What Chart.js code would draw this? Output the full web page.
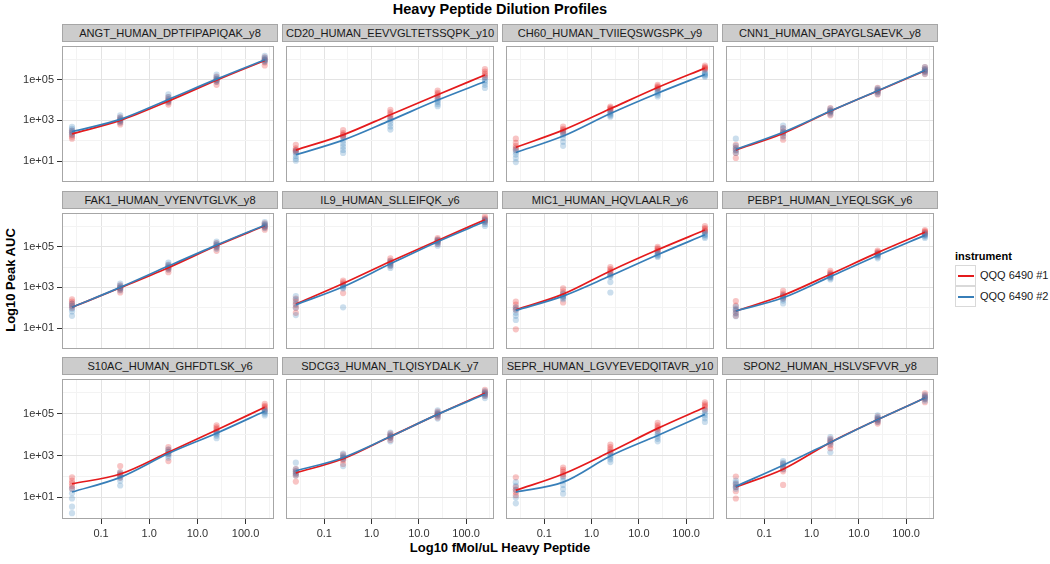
<!DOCTYPE html>
<html lang="en">
<head>
<meta charset="UTF-8" />
<title>Heavy Peptide Dilution Profiles</title>
<script src="https://cdn.jsdelivr.net/npm/chart.js@4.4.0/dist/chart.umd.min.js"></script>
<style>
  body { margin: 0; background: #fff; font-family: 'Liberation Sans', Arial, sans-serif; }
  #page { position: relative; width: 1050px; height: 564px; overflow: hidden; }
  canvas { position: absolute; }
  .strip { position: absolute; box-sizing: border-box; height: 18px; background: #CCCCCC; border: 1px solid #A6A6A6;
           font-size: 11.1px; line-height: 16px; text-align: center; color: #1a1a1a; white-space: nowrap; }
  .title { position: absolute; left: 0; width: 1000px; top: 1px; text-align: center; font-weight: bold; font-size: 14.5px; color: #000; }
  .xtitle { position: absolute; left: 62px; width: 876px; top: 540px; text-align: center; font-weight: bold; font-size: 13px; color: #000; }
  .ytitle { position: absolute; left: 10px; top: 280px; transform: translate(-50%, -50%) rotate(-90deg); font-weight: bold; font-size: 13px; white-space: nowrap; color: #000; }
  .ltitle { position: absolute; left: 955px; top: 250px; font-weight: bold; font-size: 11px; }
  .lkey { position: absolute; left: 955px; width: 21px; height: 21px; box-sizing: border-box; border: 1px solid #D9D9D9; background: #fff; }
  .lkey span { position: absolute; left: 2px; right: 1px; top: 9px; height: 1.6px; }
  .llab { position: absolute; left: 980px; font-size: 11px; color: #1a1a1a; }
</style>
</head>
<body>
<div id="page">
  <div class="title">Heavy Peptide Dilution Profiles</div>
  <div class="xtitle">Log10 fMol/uL Heavy Peptide</div>
  <div class="ytitle">Log10 Peak AUC</div>
  <div class="ltitle">instrument</div>
  <div class="lkey" style="top:265px"><span style="background:#E41A1C"></span></div>
  <div class="llab" style="top:269px">QQQ 6490 #1</div>
  <div class="lkey" style="top:286px"><span style="background:#377EB8"></span></div>
  <div class="llab" style="top:290px">QQQ 6490 #2</div>
</div>
<script>
  var peptides = [
    'ANGT_HUMAN_DPTFIPAPIQAK_y8', 'CD20_HUMAN_EEVVGLTETSSQPK_y10', 'CH60_HUMAN_TVIIEQSWGSPK_y9', 'CNN1_HUMAN_GPAYGLSAEVK_y8',
    'FAK1_HUMAN_VYENVTGLVK_y8', 'IL9_HUMAN_SLLEIFQK_y6', 'MIC1_HUMAN_HQVLAALR_y6', 'PEBP1_HUMAN_LYEQLSGK_y6',
    'S10AC_HUMAN_GHFDTLSK_y6', 'SDCG3_HUMAN_TLQISYDALK_y7', 'SEPR_HUMAN_LGVYEVEDQITAVR_y10', 'SPON2_HUMAN_HSLVSFVVR_y8'
  ];
  var concentrations = [0.025, 0.25, 2.5, 25, 250];
  var instruments = ['QQQ 6490 #1', 'QQQ 6490 #2'];

  // smoothed fit, log10 peak AUC at each concentration
  var fit1 = [
    [2.34, 3.0, 3.95, 4.98, 5.95], [1.54, 2.29, 3.28, 4.26, 5.23], [1.68, 2.52, 3.57, 4.62, 5.57], [1.55, 2.36, 3.45, 4.45, 5.44],
    [2.02, 2.98, 3.97, 5.05, 6.03], [2.18, 3.19, 4.27, 5.31, 6.33], [1.9, 2.67, 3.81, 4.85, 5.82], [1.84, 2.61, 3.65, 4.71, 5.71],
    [1.65, 2.12, 3.16, 4.22, 5.31], [2.17, 2.85, 3.91, 4.97, 5.98], [1.34, 2.12, 3.18, 4.3, 5.31], [1.5, 2.35, 3.63, 4.72, 5.75]
  ];
  var fit2 = [
    [2.45, 3.05, 4.03, 5.03, 5.98], [1.31, 2.03, 3.0, 4.0, 4.91], [1.42, 2.23, 3.34, 4.34, 5.26], [1.58, 2.42, 3.46, 4.46, 5.46],
    [2.02, 3.0, 4.05, 5.08, 6.06], [2.15, 3.03, 4.16, 5.25, 6.24], [1.87, 2.57, 3.57, 4.61, 5.59], [1.84, 2.49, 3.53, 4.57, 5.56],
    [1.26, 1.96, 3.1, 4.07, 5.12], [2.27, 2.9, 3.91, 4.97, 5.93], [1.26, 1.73, 2.98, 3.96, 4.97], [1.53, 2.54, 3.63, 4.72, 5.75]
  ];

  // replicate measurements, log10 peak AUC, one list per concentration
  var rep1 = [
    [[2.5,2.4,2.3,2.2,2.1],[3.15,3.05,2.98,2.9,2.8],[4.15,4.02,3.95,3.88,3.78],[5.15,5.03,4.97,4.9,4.75],[6.1,6.0,5.95,5.85,5.7]],
    [[1.8,1.62,1.55,1.5,1.45],[2.52,2.38,2.3,2.25,2.18],[3.52,3.4,3.3,3.2,3.1],[4.46,4.35,4.28,4.2,4.1],[5.52,5.4,5.3,5.22,5.12]],
    [[2.1,1.9,1.75,1.65,1.55],[2.69,2.58,2.52,2.45,2.36],[3.68,3.62,3.57,3.52,3.47],[4.75,4.68,4.62,4.58,4.54],[5.69,5.62,5.58,5.53,5.49]],
    [[1.8,1.65,1.55,1.4,1.15],[2.62,2.45,2.35,2.25,2.05],[3.6,3.5,3.45,3.38,3.25],[4.6,4.5,4.45,4.38,4.28],[5.62,5.52,5.45,5.38,5.28]],
    [[2.41,2.3,2.2,2.1,2.0],[3.1,3.0,2.95,2.88,2.75],[4.1,4.0,3.95,3.88,3.75],[5.18,5.08,5.02,4.95,4.8],[6.15,6.05,6.0,5.95,5.84]],
    [[2.45,2.3,2.15,2.0,1.75],[3.34,3.25,3.18,3.1,2.72],[4.43,4.32,4.25,4.18,4.08],[5.43,5.35,5.3,5.24,5.15],[6.49,6.4,6.33,6.28,6.2]],
    [[2.3,2.15,2.0,1.9,0.94],[2.95,2.8,2.7,2.55,2.26],[4.0,3.9,3.82,3.75,3.65],[5.0,4.92,4.86,4.8,4.74],[6.02,5.92,5.85,5.78,5.74]],
    [[2.33,2.1,1.9,1.75,1.6],[2.83,2.7,2.62,2.55,2.45],[3.81,3.72,3.66,3.6,3.52],[4.81,4.75,4.7,4.65,4.6],[5.82,5.76,5.72,5.66,5.6]],
    [[1.96,1.8,1.68,1.55,1.42],[2.5,2.2,2.12,2.05,1.95],[3.41,3.28,3.18,3.08,2.74],[4.45,4.35,4.28,4.2,4.14],[5.47,5.38,5.32,5.25,5.16]],
    [[2.35,2.25,2.15,2.05,1.76],[3.05,2.92,2.85,2.78,2.6],[4.05,3.95,3.9,3.85,3.75],[5.1,5.02,4.97,4.92,4.82],[6.14,6.05,5.98,5.92,5.85]],
    [[1.96,1.5,1.38,1.25,1.11],[2.43,2.32,2.22,2.12,2.04],[3.52,3.4,3.3,3.2,3.13],[4.56,4.45,4.35,4.28,4.19],[5.55,5.45,5.38,5.3,5.19]],
    [[2.0,1.65,1.5,1.3,0.95],[2.6,2.45,2.35,2.25,1.6],[3.8,3.7,3.62,3.5,3.35],[4.85,4.75,4.7,4.62,4.53],[5.97,5.85,5.78,5.7,5.55]]
  ];
  var rep2 = [
    [[2.68,2.58,2.48,2.4,2.3],[3.25,3.12,3.05,2.98,2.9],[4.28,4.15,4.05,3.98,3.9],[5.25,5.12,5.05,4.98,4.9],[6.18,6.08,6.0,5.95,5.88]],
    [[1.5,1.38,1.25,1.12,1.02],[2.18,2.0,1.85,1.7,1.55,1.4],[3.1,2.98,2.85,2.7,2.55],[4.08,3.98,3.9,3.8,3.7],[5.1,4.98,4.88,4.75,4.6]],
    [[1.57,1.45,1.32,1.15,0.95],[2.42,2.3,2.15,1.95,1.75],[3.42,3.36,3.3,3.24,3.18],[4.49,4.4,4.34,4.26,4.18],[5.37,5.3,5.26,5.2,5.15]],
    [[2.1,1.75,1.62,1.52,1.4],[2.75,2.6,2.45,2.38,2.2],[3.58,3.5,3.45,3.4,3.3],[4.58,4.52,4.46,4.4,4.3],[5.62,5.52,5.46,5.4,5.3]],
    [[2.2,2.08,1.95,1.82,1.6],[3.19,3.08,3.0,2.95,2.85],[4.22,4.12,4.05,3.98,3.88],[5.25,5.15,5.08,5.0,4.9],[6.21,6.12,6.06,6.0,5.92]],
    [[2.57,2.4,2.2,2.0,1.64],[3.1,3.05,3.0,2.95,2.02],[4.3,4.2,4.12,4.05,3.96],[5.35,5.28,5.22,5.15,5.05],[6.35,6.28,6.22,6.12,6.02]],
    [[2.02,1.9,1.75,1.6,1.4],[2.7,2.6,2.55,2.48,2.42],[3.65,3.58,3.52,3.26,2.75],[4.74,4.66,4.6,4.55,4.5],[5.71,5.62,5.58,5.5,5.43]],
    [[2.05,1.95,1.85,1.72,1.58],[2.6,2.52,2.45,2.35,2.21],[3.62,3.55,3.5,3.45,3.39],[4.66,4.6,4.55,4.5,4.43],[5.66,5.6,5.55,5.5,5.43]],
    [[1.42,1.2,0.95,0.56,0.25],[2.2,2.05,1.95,1.8,1.57],[3.3,3.18,3.1,3.0,2.9],[4.14,4.08,4.02,3.95,3.83],[5.19,5.12,5.08,5.0,4.92]],
    [[2.66,2.35,2.25,2.15,2.05],[3.1,2.98,2.9,2.82,2.5],[4.1,3.98,3.92,3.85,3.68],[5.16,5.05,4.98,4.9,4.77],[6.08,6.0,5.93,5.86,5.75]],
    [[1.73,1.55,1.35,1.0,0.72],[1.96,1.8,1.6,1.4,1.18],[3.13,3.0,2.92,2.82,2.69],[4.14,4.02,3.92,3.8,3.68],[5.16,5.02,4.92,4.78,4.61]],
    [[1.8,1.7,1.6,1.5,1.42],[2.74,2.65,2.58,2.48,2.35],[3.88,3.75,3.66,3.55,3.16],[4.92,4.82,4.75,4.68,4.6],[5.9,5.82,5.76,5.7,5.62]]
  ];

  var xTicks = [0.1, 1, 10, 100];
  var xTickLabels = ['0.1', '1.0', '10.0', '100.0'];
  var yTickExp = [1, 3, 5];
  var yTickLabels = ['1e+01', '1e+03', '1e+05'];

  var lineColors = ['#E41A1C', '#377EB8'];
  var pointColors = ['rgba(228,26,28,0.26)', 'rgba(55,126,184,0.26)'];

  // grid: major at the ticks, minor half way between (log space)
  var xGridExp = [-1.5, -1, -0.5, 0, 0.5, 1, 1.5, 2, 2.5];
  var yGridExp = [0, 1, 2, 3, 4, 5, 6];

  function isMajorExp(e) { return Math.abs(e - Math.round(e)) < 1e-6; }

  function toPoints(reps) {
    var pts = [];
    reps.forEach(function (vals, i) {
      vals.forEach(function (v) { pts.push({ x: concentrations[i], y: Math.pow(10, v) }); });
    });
    return pts;
  }

  function toLine(fit) {
    return fit.map(function (v, i) { return { x: concentrations[i], y: Math.pow(10, v) }; });
  }

  var panelBorder = {
    id: 'panelBorder',
    afterDatasetsDraw: function (chart) {
      var a = chart.chartArea, ctx = chart.ctx;
      ctx.save();
      ctx.strokeStyle = '#A6A6A6';
      ctx.lineWidth = 1;
      ctx.strokeRect(a.left + 0.5, a.top + 0.5, a.right - a.left - 1, a.bottom - a.top - 1);
      ctx.restore();
    }
  };

  var page = document.getElementById('page');
  var plotW = 216, plotH = 144, stripH = 18;
  var yAxisW = 62, xAxisH = 30;

  peptides.forEach(function (name, p) {
    var r = Math.floor(p / 4), c = p % 4;
    var left = 62 + c * 220;
    var stripTop = Math.round(24 + r * 166.5);
    var top = stripTop + stripH;
    var leftCol = c === 0, bottomRow = r === 2;

    var strip = document.createElement('div');
    strip.className = 'strip';
    strip.style.left = left + 'px';
    strip.style.top = stripTop + 'px';
    strip.style.width = plotW + 'px';
    strip.textContent = name;
    page.appendChild(strip);

    var canvas = document.createElement('canvas');
    var cw = plotW + (leftCol ? yAxisW : 0);
    var ch = plotH + (bottomRow ? xAxisH : 0);
    canvas.width = cw; canvas.height = ch;
    canvas.style.width = cw + 'px'; canvas.style.height = ch + 'px';
    canvas.style.left = (left - (leftCol ? yAxisW : 0)) + 'px';
    canvas.style.top = top + 'px';
    page.appendChild(canvas);

    new Chart(canvas, {
      data: {
        datasets: [
          { type: 'line', label: instruments[1], data: toLine(fit2[p]), borderColor: lineColors[1], borderWidth: 1.7,
            pointRadius: 0, cubicInterpolationMode: 'monotone', order: 0 },
          { type: 'line', label: instruments[0], data: toLine(fit1[p]), borderColor: lineColors[0], borderWidth: 1.7,
            pointRadius: 0, cubicInterpolationMode: 'monotone', order: 1 },
          { type: 'scatter', label: instruments[1], data: toPoints(rep2[p]), backgroundColor: pointColors[1],
            borderWidth: 0, pointRadius: 3.1, order: 2 },
          { type: 'scatter', label: instruments[0], data: toPoints(rep1[p]), backgroundColor: pointColors[0],
            borderWidth: 0, pointRadius: 3.1, order: 3 }
        ]
      },
      options: {
        responsive: false,
        animation: false,
        events: [],
        layout: { padding: 0 },
        plugins: { legend: { display: false }, tooltip: { enabled: false } },
        scales: {
          x: {
            type: 'logarithmic',
            min: Math.pow(10, -1.81),
            max: Math.pow(10, 2.59),
            afterBuildTicks: function (s) { s.ticks = xGridExp.map(function (e) { return { value: Math.pow(10, e) }; }); },
            afterFit: function (s) { s.height = bottomRow ? xAxisH : 0; s.paddingLeft = 0; s.paddingRight = 0; },
            border: { display: false },
            grid: {
              color: function (ctx) { return isMajorExp(Math.log10(ctx.tick.value)) ? '#E3E3E3' : '#F3F3F3'; },
              lineWidth: 1,
              drawTicks: bottomRow,
              tickLength: 5,
              tickColor: function (ctx) { return isMajorExp(Math.log10(ctx.tick.value)) ? '#333333' : 'rgba(0,0,0,0)'; }
            },
            ticks: {
              display: bottomRow,
              autoSkip: false,
              maxRotation: 0,
              padding: 3,
              color: '#333333',
              font: { family: "'Liberation Sans', Arial, sans-serif", size: 11 },
              callback: function (v) {
                var i = xTicks.findIndex(function (t) { return Math.abs(Math.log10(t) - Math.log10(v)) < 1e-6; });
                return i >= 0 ? xTickLabels[i] : '';
              }
            }
          },
          y: {
            type: 'logarithmic',
            min: Math.pow(10, -0.03),
            max: Math.pow(10, 6.66),
            afterBuildTicks: function (s) { s.ticks = yGridExp.map(function (e) { return { value: Math.pow(10, e) }; }); },
            afterFit: function (s) { s.width = leftCol ? yAxisW : 0; s.paddingTop = 0; s.paddingBottom = 0; },
            border: { display: false },
            grid: {
              color: function (ctx) { return yTickExp.indexOf(Math.round(Math.log10(ctx.tick.value))) >= 0 ? '#E3E3E3' : '#F3F3F3'; },
              lineWidth: 1,
              drawTicks: leftCol,
              tickLength: 5,
              tickColor: function (ctx) { return yTickExp.indexOf(Math.round(Math.log10(ctx.tick.value))) >= 0 ? '#333333' : 'rgba(0,0,0,0)'; }
            },
            ticks: {
              display: leftCol,
              autoSkip: false,
              padding: 3,
              color: '#333333',
              font: { family: "'Liberation Sans', Arial, sans-serif", size: 11 },
              callback: function (v) {
                var i = yTickExp.indexOf(Math.round(Math.log10(v)));
                return i >= 0 ? yTickLabels[i] : '';
              }
            }
          }
        }
      },
      plugins: [panelBorder]
    });
  });
</script>
</body>
</html>
